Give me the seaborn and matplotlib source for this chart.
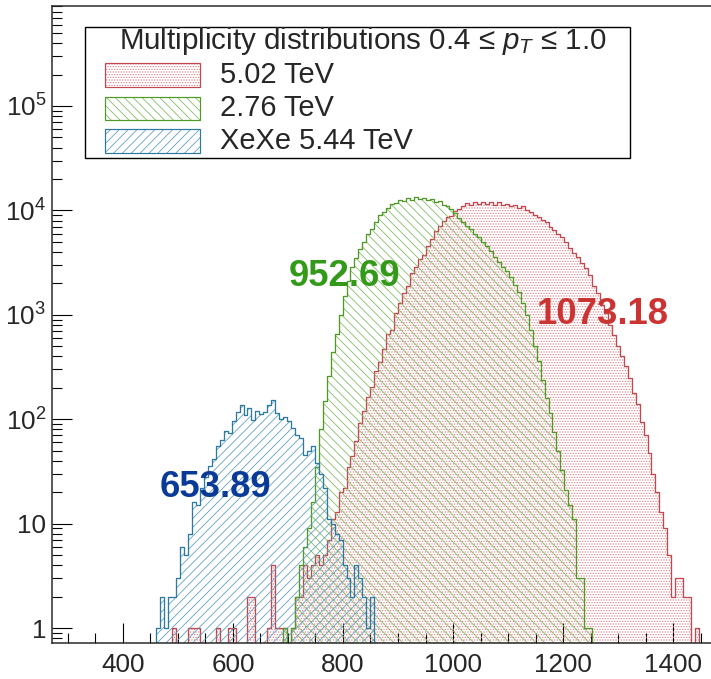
import numpy as np
import pandas as pd
import matplotlib
matplotlib.use("Agg")
import matplotlib.pyplot as plt
from matplotlib.patches import Rectangle
from matplotlib.ticker import FixedLocator, FuncFormatter, LogLocator, MultipleLocator, NullFormatter
import seaborn as sns

# ---------------------------------------------------------------- data
BIN_WIDTH = 7.2

# lower edge of the first bin and event counts per bin
pbpb502_start = 489.6
pbpb502_counts = [
    1, 0, 0, 0, 1, 1, 1, 0, 0, 0,
    0, 1, 0, 0, 1, 1, 0, 0, 0, 2,
    2, 0, 0, 0, 1, 4, 1, 1, 1, 0,
    1, 2, 2, 4, 3, 4, 5, 4, 5, 7,
    11, 13, 20, 22, 35, 44, 62, 92, 120, 165,
    205, 290, 350, 470, 660, 720, 1050, 1300, 1600, 1900,
    2500, 2900, 3400, 3700, 4600, 5300, 6400, 7100, 7900, 8600,
    8900, 9800, 10300, 11000, 11800, 11200, 12000, 11400, 12100, 11600,
    12000, 11300, 11900, 11200, 11600, 10900, 11300, 10600, 10900, 10000,
    9700, 9000, 8700, 8100, 7800, 7000, 6500, 6000, 5500, 5000,
    4400, 3900, 3600, 3100, 2800, 2400, 1900, 1600, 1250, 1050,
    800, 640, 500, 400, 320, 250, 180, 140, 95, 70,
    48, 30, 20, 13, 9, 5, 2, 3, 3, 2,
    2, 0, 1,
]

pbpb276_start = 691.2
pbpb276_counts = [
    1, 0, 1, 2, 4, 6, 9, 16, 35, 80,
    150, 260, 440, 650, 1000, 1500, 2100, 2900, 3500, 4300,
    5000, 5900, 6600, 7700, 9000, 9700, 10500, 11400, 11800, 12600,
    12300, 13100, 12700, 13300, 12800, 13200, 12600, 12900, 12100, 12300,
    11300, 10900, 10200, 9400, 8500, 7800, 7100, 6700, 5900, 5500,
    5000, 4600, 4100, 3600, 3200, 2900, 2600, 2300, 1950, 1650,
    1300, 1000, 720, 500, 360, 240, 160, 115, 75, 50,
    33, 21, 15, 11, 3, 3, 1, 1,
]

xexe544_start = 460.8
xexe544_counts = [
    1, 2, 1, 2, 2, 3, 6, 5, 8, 16,
    15, 22, 28, 36, 42, 56, 63, 78, 74, 96,
    117, 136, 110, 127, 98, 120, 112, 118, 136, 152,
    114, 100, 104, 96, 82, 70, 66, 45, 50, 56,
    38, 30, 22, 11, 10, 8, 7, 4, 3, 2,
    4, 3, 2, 1, 2,
]

series_labels = ["5.02 TeV", "2.76 TeV", "XeXe 5.44 TeV"]
mean_labels = ["1073.18", "952.69", "653.89"]
legend_title = "Multiplicity distributions 0.4 \u2264 $\\mathit{p}_{\\mathit{T}}$ \u2264 1.0"
y_tick_values = [1, 10, 100, 1000, 10000, 100000]
y_tick_labels = ["1", "10", "$10^{2}$", "$10^{3}$", "$10^{4}$", "$10^{5}$"]

# ---------------------------------------------------------------- style
DPI = 80
W, H = 711, 679


def pt(px):
    """Convert a length in output pixels to points."""
    return px * 72.0 / DPI


sns.set_style("ticks")
plt.rcParams.update({
    "font.family": ["Liberation Sans", "DejaVu Sans"],
    "mathtext.fontset": "custom",
    "mathtext.rm": "Liberation Sans",
    "mathtext.it": "Liberation Sans:italic",
    "mathtext.bf": "Liberation Sans:bold",
    "mathtext.default": "regular",
    "xtick.direction": "in",
    "ytick.direction": "in",
    "axes.linewidth": pt(1.5),
})

# outline colour, fill-pattern colour, pattern and pattern line width
line_colors = {
    "5.02 TeV": "#c4474f",
    "2.76 TeV": "#4f9a26",
    "XeXe 5.44 TeV": "#2c7aa3",
}
pattern_colors = {
    "5.02 TeV": "#d86f76",
    "2.76 TeV": "#7fb85e",
    "XeXe 5.44 TeV": "#5a9cc0",
}
hatches = {
    "5.02 TeV": ".....",
    "2.76 TeV": "\\\\\\",
    "XeXe 5.44 TeV": "///",
}
hatch_widths = {
    "5.02 TeV": 0.6,
    "2.76 TeV": 0.7,
    "XeXe 5.44 TeV": 0.7,
}
text_colors = ["#cc3333", "#339a19", "#0a3a98"]


def hist_frame(start, counts, label):
    counts = np.asarray(counts, dtype=float)
    edges = start + BIN_WIDTH * np.arange(len(counts) + 1)
    centers = 0.5 * (edges[:-1] + edges[1:])
    return pd.DataFrame({"mult": centers, "events": counts, "system": label}), edges


fig = plt.figure(figsize=(W / DPI, H / DPI), dpi=DPI)
ax = fig.add_axes([52 / W, 36 / H, 659 / W, 637 / H])
ax.set_yscale("log")

datasets = [
    (pbpb502_start, pbpb502_counts, series_labels[0]),
    (pbpb276_start, pbpb276_counts, series_labels[1]),
    (xexe544_start, xexe544_counts, series_labels[2]),
]
for start, counts, label in datasets:
    df, edges = hist_frame(start, counts, label)
    plt.rcParams["hatch.linewidth"] = hatch_widths[label]
    # fill pattern
    sns.histplot(
        data=df, x="mult", weights="events", bins=edges.tolist(),
        element="step", fill=True, ax=ax, color=line_colors[label],
        facecolor="none", edgecolor=pattern_colors[label],
        linewidth=0, hatch=hatches[label],
    )
    # histogram outline
    sns.histplot(
        data=df, x="mult", weights="events", bins=edges.tolist(),
        element="step", fill=True, ax=ax, color=line_colors[label],
        facecolor="none", edgecolor=line_colors[label],
        linewidth=pt(1.3),
    )

# ---------------------------------------------------------------- axes
ax.set_xlim(271, 1469)
ax.set_ylim(0.72, 9.06e5)
ax.set_xlabel("")
ax.set_ylabel("")
ax.spines["right"].set_visible(False)

ax.xaxis.set_major_locator(MultipleLocator(200))
ax.xaxis.set_minor_locator(MultipleLocator(50))
ax.yaxis.set_major_locator(FixedLocator(y_tick_values))
ax.yaxis.set_major_formatter(FuncFormatter(
    lambda v, _: y_tick_labels[y_tick_values.index(int(round(v)))]
    if int(round(v)) in y_tick_values else ""))
ax.yaxis.set_minor_locator(LogLocator(base=10, subs=np.arange(2, 10)))
ax.yaxis.set_minor_formatter(NullFormatter())

ax.tick_params(axis="both", which="major", length=pt(20), width=pt(1.1),
               color="black", labelsize=pt(26))
ax.tick_params(axis="both", which="minor", length=pt(10), width=pt(1.1),
               color="black")
ax.tick_params(axis="x", which="major", pad=pt(10))
ax.tick_params(axis="y", which="major", pad=pt(6))
ax.tick_params(right=False, top=False, which="both")

# mean multiplicity annotations
label_pos = [(1272, 1010), (803, 2340), (569, 22.3)]
for (xv, yv), txt, c in zip(label_pos, mean_labels, text_colors):
    ax.text(xv, yv, txt, color=c, fontsize=pt(36.5), fontweight="bold",
            ha="center", va="center")

# ---------------------------------------------------------------- legend box
def axfrac(px_x, px_y):
    return (px_x - 52) / 659, 1 - (px_y - 6) / 637


x0, y1 = axfrac(85, 27)
x1, y0 = axfrac(630, 158)
ax.add_patch(Rectangle((x0, y0), x1 - x0, y1 - y0, transform=ax.transAxes,
                       facecolor="white", edgecolor="black", linewidth=pt(1.4),
                       zorder=5))
tx, ty = axfrac(363, 41)
ax.text(tx, ty, legend_title, transform=ax.transAxes, fontsize=pt(29.5),
        ha="center", va="center", zorder=6)

rows = [(63, 87), (97, 120), (129, 153)]
for (top_px, bot_px), label in zip(rows, series_labels):
    sx0, sy1 = axfrac(105, top_px)
    sx1, sy0 = axfrac(200, bot_px)
    plt.rcParams["hatch.linewidth"] = hatch_widths[label]
    ax.add_patch(Rectangle((sx0, sy0), sx1 - sx0, sy1 - sy0,
                           transform=ax.transAxes, facecolor="white",
                           edgecolor=pattern_colors[label], linewidth=0,
                           hatch=hatches[label], zorder=6))
    ax.add_patch(Rectangle((sx0, sy0), sx1 - sx0, sy1 - sy0,
                           transform=ax.transAxes, facecolor="none",
                           edgecolor=line_colors[label], linewidth=pt(1.2),
                           zorder=7))
    lx, ly = axfrac(220, (top_px + bot_px) / 2)
    ax.text(lx, ly, label, transform=ax.transAxes, fontsize=pt(29),
            ha="left", va="center", zorder=6)

fig.savefig("out.png", dpi=DPI)
